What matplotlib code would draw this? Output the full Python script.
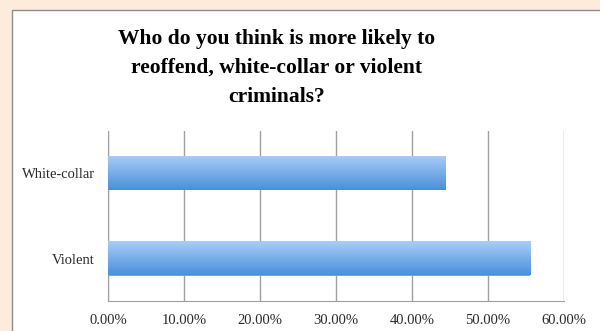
import matplotlib
matplotlib.use("Agg")
import matplotlib.pyplot as plt
import numpy as np
from matplotlib.patches import Rectangle
from matplotlib.colors import LinearSegmentedColormap

categories = ["Violent", "White-collar"]
shares = [55.56, 44.44]
x_ticks = [0, 10, 20, 30, 40, 50, 60]
title = "Who do you think is more likely to\nreoffend, white-collar or violent\ncriminals?"

SERIF = ["Liberation Serif", "DejaVu Serif"]
BG = "#fdecdc"
GRID = "#a0a0a0"

fig = plt.figure(figsize=(6.0, 3.31), dpi=100)
fig.patch.set_facecolor(BG)

# white chart panel with a grey border on the left/top
panel = Rectangle((12 / 600, -0.05), 1.0, 1 - 10 / 331 + 0.05,
                  transform=fig.transFigure, facecolor="white",
                  edgecolor="#8c8c8c", linewidth=1.0, zorder=-5)
fig.patches.append(panel)

fig.text(0.461, 1 - 68 / 331, title, ha="center", va="center",
         fontsize=15.5, fontweight="bold", family=SERIF, linespacing=1.62)

ax = fig.add_axes([108 / 600, 1 - 301 / 331, 456 / 600, 170 / 331])
ax.set_facecolor("none")

y = np.arange(len(categories))
bars = ax.barh(y, shares, height=0.4, color="#6ea6e8", zorder=3)

cmap = LinearSegmentedColormap.from_list("bar", ["#4b8fdc", "#a9cdf6"])
grad = np.linspace(0, 1, 64).reshape(-1, 1)
for b in bars:
    x0, y0 = b.get_x(), b.get_y()
    im = ax.imshow(grad, cmap=cmap, aspect="auto", origin="lower",
                   extent=(x0, x0 + b.get_width(), y0, y0 + b.get_height()),
                   zorder=4)
    im.set_clip_path(b)

ax.set_xlim(0, 60)
ax.set_ylim(-0.5, 1.5)
ax.set_xticks(x_ticks)
ax.set_xticklabels([f"{v:.2f}%" for v in x_ticks])
ax.set_yticks(y)
ax.set_yticklabels(categories)
ax.grid(axis="x", color=GRID, linewidth=1.0, zorder=1)
ax.tick_params(length=0, pad=9, labelsize=10.5, colors="#2a2a2a")
ax.tick_params(axis="y", pad=9.5)
for lab in ax.get_xticklabels() + ax.get_yticklabels():
    lab.set_family(SERIF)
for side in ["top", "right"]:
    ax.spines[side].set_visible(False)
for side in ["left", "bottom"]:
    ax.spines[side].set_color(GRID)
    ax.spines[side].set_zorder(2)

fig.savefig("out.png", dpi=100, facecolor=BG)
